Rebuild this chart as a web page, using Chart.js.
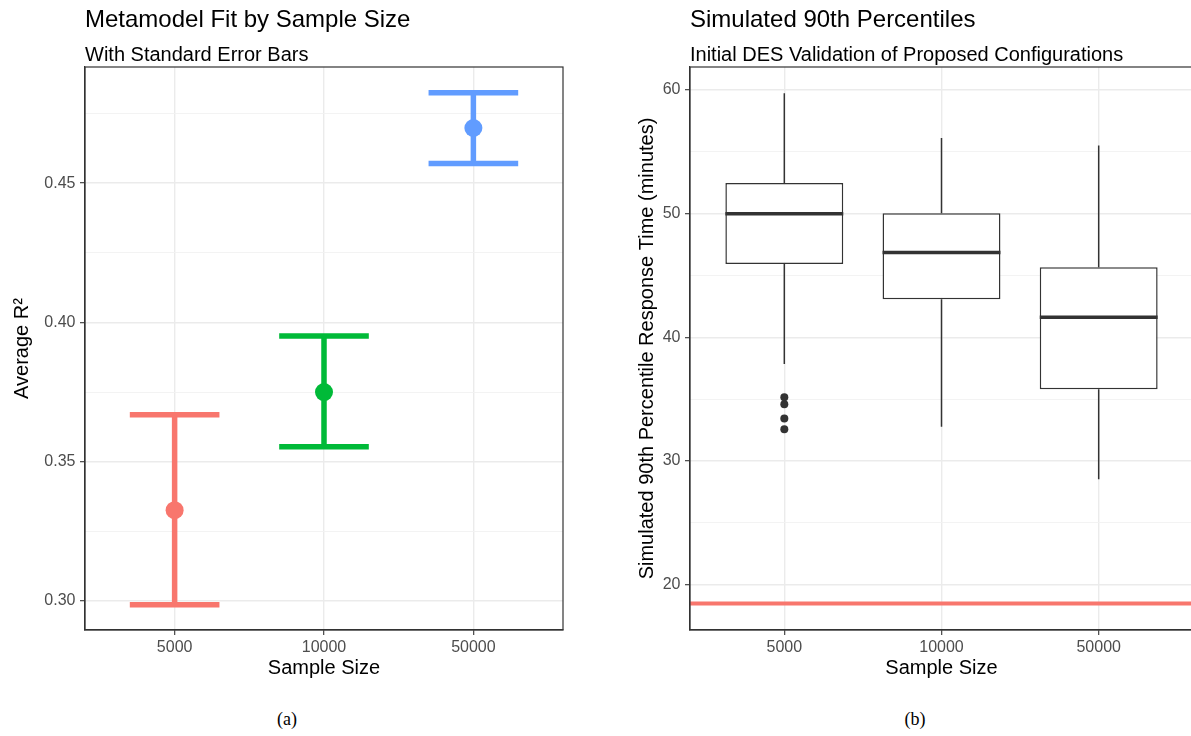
<!DOCTYPE html>
<html>
<head>
<meta charset="utf-8">
<script src="https://cdn.jsdelivr.net/npm/chart.js@4.4.1/dist/chart.umd.min.js"></script>
<style>
  html, body { margin: 0; padding: 0; background: #fff; overflow: hidden; }
  body { width: 1191px; height: 736px; position: relative; font-family: "Liberation Sans", Arial, sans-serif; }
  .panel { position: absolute; top: 0; width: 600px; height: 700px; }
  .title { position: absolute; font-size: 24px; line-height: 24px; color: #000; white-space: nowrap; }
  .subtitle { position: absolute; font-size: 20px; line-height: 20px; color: #000; white-space: nowrap; }
  .caption { position: absolute; width: 200px; text-align: center; font-family: "Liberation Serif", serif; font-size: 18px; line-height: 18px; color: #000; }
</style>
</head>
<body>
<div class="panel" style="left:0"><canvas id="fitChart"></canvas></div>
<div class="panel" style="left:600px"><canvas id="boxChart"></canvas></div>

<div class="title" style="left:85px; top:7px">Metamodel Fit by Sample Size</div>
<div class="subtitle" style="left:85px; top:44px">With Standard Error Bars</div>
<div class="title" style="left:690px; top:7px">Simulated 90th Percentiles</div>
<div class="subtitle" style="left:690px; top:44px">Initial DES Validation of Proposed Configurations</div>
<div class="caption" style="left:187px; top:710px">(a)</div>
<div class="caption" style="left:815px; top:710px">(b)</div>

<script>
// shared categories
const sampleSizes = ['5000', '10000', '50000'];

// panel (a): average R^2 with standard error bars
const fitColors = ['#F8766D', '#00BA38', '#619CFF'];
const meanR2 = [0.3326, 0.3750, 0.4698];
const lowerR2 = [0.2987, 0.3554, 0.4571];
const upperR2 = [0.3669, 0.3951, 0.4825];
const r2Ticks = [0.30, 0.35, 0.40, 0.45];
const r2TickLabels = ['0.30', '0.35', '0.40', '0.45'];

// panel (b): boxplots of simulated 90th percentiles
const boxMin = [37.85, 32.78, 28.53];
const boxQ1 = [45.93, 43.08, 35.80];
const boxMedian = [49.98, 46.85, 41.62];
const boxQ3 = [52.46, 50.03, 45.67];
const boxMax = [59.72, 56.10, 55.50];
const outliers5000 = [35.16, 34.59, 33.43, 32.57];
const targetTime = 18.5;
const minuteTicks = [20, 30, 40, 50, 60];
const minuteTickLabels = ['20', '30', '40', '50', '60'];

const X_MIN = -0.6, X_MAX = 2.6;
const TICK_GREY = '#4D4D4D';
const GRID = '#EBEBEB';
const INK = '#333333';

const panelBorder = {
  id: 'panelBorder',
  afterDatasetsDraw(chart) {
    const { ctx, chartArea: a } = chart;
    ctx.save();
    ctx.strokeStyle = INK;
    ctx.lineWidth = 1.2;
    ctx.strokeRect(a.left, a.top, a.right - a.left, a.bottom - a.top);
    ctx.restore();
  }
};

function xScale() {
  return {
    type: 'linear', min: X_MIN, max: X_MAX, offset: false,
    afterBuildTicks: s => { s.ticks = sampleSizes.map((_, i) => ({ value: i })); },
    afterFit: s => { s.height = 50; },
    ticks: { callback: v => sampleSizes[v], color: TICK_GREY, font: { size: 16 }, padding: 3, maxRotation: 0, autoSkip: false },
    grid: { color: GRID, lineWidth: 1.4, tickColor: INK, tickLength: 5, tickWidth: 1.1, offset: false },
    border: { display: true, color: INK, width: 1.2 },
    title: { display: true, text: 'Sample Size', color: '#000', font: { size: 20 }, padding: 0 }
  };
}

function yScale(min, max, majors, labels, titleText, titlePad, axisWidth) {
  const step = majors[1] - majors[0];
  const minors = [majors[0] - step / 2, ...majors.map(v => v + step / 2)].filter(v => v > min && v < max);
  const values = [...majors, ...minors].sort((a, b) => a - b);
  const majorIndex = v => majors.findIndex(m => Math.abs(m - v) < step / 100);
  const isMajor = ctx => majorIndex(ctx.tick.value) >= 0;
  return {
    type: 'linear', min, max,
    afterBuildTicks: s => { s.ticks = values.map(v => ({ value: v })); },
    afterFit: s => { s.width = axisWidth; },
    ticks: {
      callback: v => { const k = majorIndex(v); return k >= 0 ? labels[k] : ''; },
      color: TICK_GREY, font: { size: 16 }, padding: 4.5, autoSkip: false
    },
    grid: {
      color: ctx => isMajor(ctx) ? GRID : '#F2F2F2',
      lineWidth: ctx => isMajor(ctx) ? 1.4 : 0.9,
      tickColor: ctx => isMajor(ctx) ? INK : 'rgba(0,0,0,0)',
      tickLength: 5, tickWidth: 1.1
    },
    border: { display: true, color: INK, width: 1.2 },
    title: { display: true, text: titleText, color: '#000', font: { size: 20 }, padding: { top: titlePad, bottom: 0 } }
  };
}

const common = {
  responsive: true,
  maintainAspectRatio: false,
  animation: false,
  events: [],
  plugins: { legend: { display: false }, tooltip: { enabled: false } }
};

Chart.defaults.font.family = '"Liberation Sans", Arial, sans-serif';

// ---- panel (a)
const errorBarSets = sampleSizes.map((_, i) => ({
  type: 'line',
  data: [
    { x: i - 0.3, y: upperR2[i] }, { x: i + 0.3, y: upperR2[i] }, { x: i, y: null },
    { x: i, y: upperR2[i] }, { x: i, y: lowerR2[i] }, { x: i, y: null },
    { x: i - 0.3, y: lowerR2[i] }, { x: i + 0.3, y: lowerR2[i] }
  ],
  borderColor: fitColors[i],
  borderWidth: 5.5,
  borderCapStyle: 'butt',
  pointRadius: 0,
  spanGaps: false,
  fill: false,
  order: 2
}));

new Chart(document.getElementById('fitChart'), {
  type: 'scatter',
  data: {
    datasets: [
      ...errorBarSets,
      {
        type: 'scatter',
        data: meanR2.map((v, i) => ({ x: i, y: v })),
        backgroundColor: fitColors,
        borderWidth: 0,
        pointRadius: 9,
        order: 1
      }
    ]
  },
  options: {
    ...common,
    layout: { padding: { left: 0, top: 67, right: 37, bottom: 20 } },
    scales: {
      x: xScale(),
      y: yScale(0.2896, 0.4917, r2Ticks, r2TickLabels, 'Average R²', 10, 85)
    }
  },
  plugins: [panelBorder]
});

// ---- panel (b)
const whiskerPoints = [];
const medianPoints = [];
sampleSizes.forEach((_, i) => {
  whiskerPoints.push({ x: i, y: boxQ3[i] }, { x: i, y: boxMax[i] }, { x: i, y: null },
                     { x: i, y: boxQ1[i] }, { x: i, y: boxMin[i] }, { x: i, y: null });
  medianPoints.push({ x: i - 0.375, y: boxMedian[i] }, { x: i + 0.375, y: boxMedian[i] }, { x: i, y: null });
});

new Chart(document.getElementById('boxChart'), {
  type: 'scatter',
  data: {
    datasets: [
      {
        type: 'line',
        data: [{ x: X_MIN, y: targetTime }, { x: X_MAX, y: targetTime }],
        borderColor: '#F8766D', borderWidth: 4, pointRadius: 0, fill: false, order: 5
      },
      {
        type: 'bar',
        data: sampleSizes.map((_, i) => ({ x: i, y: [boxQ1[i], boxQ3[i]] })),
        backgroundColor: '#FFFFFF', borderColor: INK, borderWidth: 1.5, borderSkipped: false,
        barPercentage: 0.75, categoryPercentage: 1, order: 4
      },
      {
        type: 'line',
        data: whiskerPoints,
        borderColor: INK, borderWidth: 1.5, pointRadius: 0, spanGaps: false, fill: false, order: 3
      },
      {
        type: 'line',
        data: medianPoints,
        borderColor: INK, borderWidth: 3.5, borderCapStyle: 'butt', pointRadius: 0, spanGaps: false, fill: false, order: 2
      },
      {
        type: 'scatter',
        data: outliers5000.map(v => ({ x: 0, y: v })),
        backgroundColor: INK, borderWidth: 0, pointRadius: 4, order: 1
      }
    ]
  },
  options: {
    ...common,
    layout: { padding: { left: 0, top: 67, right: 7, bottom: 20 } },
    scales: {
      x: xScale(),
      y: yScale(16.35, 61.84, minuteTicks, minuteTickLabels, 'Simulated 90th Percentile Response Time (minutes)', 35, 90)
    }
  },
  plugins: [panelBorder]
});
</script>
</body>
</html>
